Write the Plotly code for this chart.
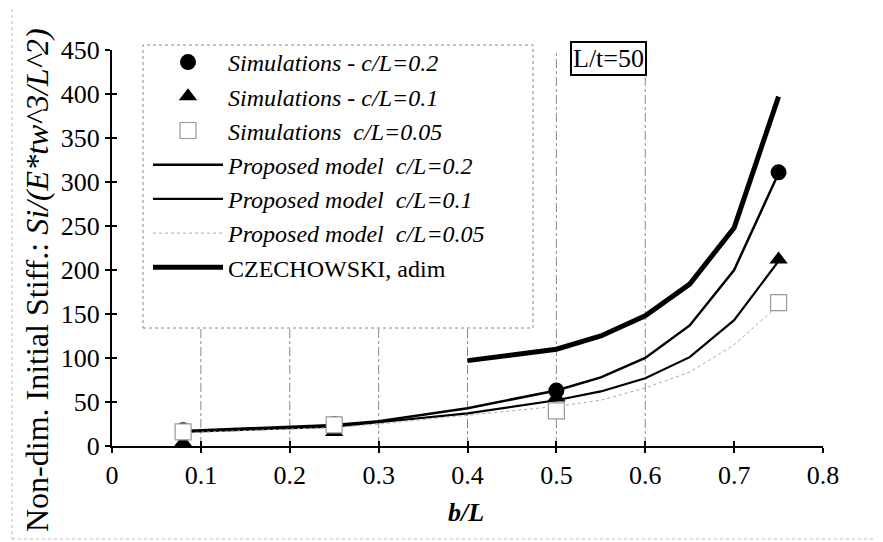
import plotly.graph_objects as go

# ---- data ----
sim_x = [0.08, 0.25, 0.5, 0.75]
sim_c02 = [18, 25, 63, 311]
sim_c01 = [4, 16, 55, 212]
sim_c005 = [16, 24, 40, 163]

model_x = [0.08, 0.25, 0.3, 0.4, 0.5, 0.55, 0.6, 0.65, 0.7, 0.75]
model_c02 = [17, 24, 28, 43, 63, 78, 100, 137, 200, 310]
model_c01 = [16, 22, 27, 37, 52, 62, 77, 101, 143, 210]
model_c005 = [15, 21, 25, 35, 45, 52, 66, 84, 115, 160]

czech_x = [0.4, 0.5, 0.55, 0.6, 0.65, 0.7, 0.75]
czech_y = [97, 110, 125, 148, 184, 248, 397]

x_ticks = [0, 0.1, 0.2, 0.3, 0.4, 0.5, 0.6, 0.7, 0.8]
x_ticklabels = ["0", "0.1", "0.2", "0.3", "0.4", "0.5", "0.6", "0.7", "0.8"]
y_ticks = [0, 50, 100, 150, 200, 250, 300, 350, 400, 450]
grid_x = [0.1, 0.2, 0.3, 0.4, 0.5, 0.6]

FONT = "Liberation Serif, Times New Roman, serif"

fig = go.Figure()

# lines first (drawn beneath markers)
fig.add_trace(go.Scatter(x=model_x, y=model_c02, mode="lines",
                         name="<i>Proposed model  c/L=0.2</i>", legendrank=4,
                         line=dict(color="black", width=2.5)))
fig.add_trace(go.Scatter(x=model_x, y=model_c01, mode="lines",
                         name="<i>Proposed model  c/L=0.1</i>", legendrank=5,
                         line=dict(color="black", width=2.2)))
fig.add_trace(go.Scatter(x=model_x, y=model_c005, mode="lines",
                         name="<i>Proposed model  c/L=0.05</i>", legendrank=6,
                         line=dict(color="#aaaaaa", width=1, dash="dot")))
fig.add_trace(go.Scatter(x=czech_x, y=czech_y, mode="lines",
                         name="CZECHOWSKI, adim", legendrank=7,
                         line=dict(color="black", width=5)))

# markers
fig.add_trace(go.Scatter(x=sim_x, y=sim_c01, mode="markers",
                         name="<i>Simulations - c/L=0.1</i>", legendrank=2,
                         marker=dict(symbol="triangle-up", size=16, color="black")))
fig.add_trace(go.Scatter(x=sim_x, y=sim_c02, mode="markers",
                         name="<i>Simulations - c/L=0.2</i>", legendrank=1,
                         marker=dict(symbol="circle", size=16, color="black")))
fig.add_trace(go.Scatter(x=sim_x, y=sim_c005, mode="markers",
                         name="<i>Simulations  c/L=0.05</i>", legendrank=3,
                         marker=dict(symbol="square", size=16, color="white",
                                     line=dict(color="#999999", width=1.2))))

# empty helper trace so the overlay axes (inward tick halves) get drawn
fig.add_trace(go.Scatter(x=[], y=[], xaxis="x2", yaxis="y2", mode="markers",
                         showlegend=False, hoverinfo="skip"))

# page body has an 8px margin -> compensate so the plot lands where the reference has it
OFF = 8
W, H = 883, 542
L = 112 - OFF
T = 50 - OFF
R = W - (823 - OFF)
B = H - (446 - OFF)
pw, ph = W - L - R, H - T - B


def px(xpix):
    return (xpix - OFF - L) / pw


def py(ypix):
    return (H - B - (ypix - OFF)) / ph


shapes = []
for gx in grid_x:
    shapes.append(dict(type="line", xref="x", yref="y domain", x0=gx, x1=gx,
                       y0=0, y1=1, line=dict(color="#888888", width=1, dash="dashdot"),
                       layer="below"))
shapes += [
    # legend box (dashed, white)
    dict(type="rect", xref="paper", yref="paper",
         x0=px(143), x1=px(533), y0=py(328), y1=py(45),
         line=dict(color="#888888", width=1, dash="dot"),
         fillcolor="white", layer="above"),
    # faint outer chart-area border
    dict(type="rect", xref="paper", yref="paper",
         x0=px(12), x1=px(880), y0=py(539), y1=py(5),
         line=dict(color="#bbbbbb", width=1, dash="dot"),
         fillcolor="rgba(0,0,0,0)", layer="below"),
]

annotations = [
    dict(text="L/t=50", xref="paper", yref="paper", x=px(608), y=py(58),
         xanchor="center", yanchor="middle", showarrow=False,
         font=dict(family=FONT, size=26, color="black"),
         bordercolor="black", borderwidth=2, borderpad=1, bgcolor="white"),
    dict(text="Non-dim. Initial Stiff.: <i>Si/(E*tw^3/L^2)</i>",
         xref="paper", yref="paper", x=px(37), y=py(280), textangle=-90,
         xanchor="center", yanchor="middle", showarrow=False,
         font=dict(family=FONT, size=32, color="black")),
    dict(text="<b><i>b/L</i></b>", xref="paper", yref="paper",
         x=px(466), y=py(512), xanchor="center", yanchor="middle",
         showarrow=False, font=dict(family=FONT, size=26, color="black")),
]

fig.update_layout(
    width=W, height=H,
    margin=dict(l=L, r=R, t=T, b=B, autoexpand=False),
    paper_bgcolor="white", plot_bgcolor="white",
    font=dict(family=FONT, size=22, color="black"),
    showlegend=True,
    legend=dict(x=px(148), y=py(40), xanchor="left", yanchor="top",
                bgcolor="rgba(0,0,0,0)", borderwidth=0,
                font=dict(family=FONT, size=24, color="black"),
                itemwidth=70, tracegroupgap=0),
    shapes=shapes,
    annotations=annotations,
    xaxis=dict(range=[0, 0.8], tickvals=x_ticks, ticktext=x_ticklabels,
               showline=True, linecolor="black", linewidth=2,
               ticks="outside", ticklen=5, tickwidth=2, tickcolor="black",
               showgrid=False, zeroline=False, ticklabelstandoff=0,
               tickfont=dict(family=FONT, size=26)),
    yaxis=dict(range=[0, 450], tickvals=y_ticks,
               showline=True, linecolor="black", linewidth=2,
               ticks="outside", ticklen=5, tickwidth=2, tickcolor="black",
               showgrid=False, zeroline=False,
               tickfont=dict(family=FONT, size=26)),
    # overlay axes only to draw the inward half of the crossing tick marks
    xaxis2=dict(overlaying="x", matches="x", anchor="y2", side="bottom",
                tickvals=x_ticks, ticks="inside", ticklen=5, tickwidth=2,
                tickcolor="black", showticklabels=False, showline=False,
                showgrid=False, zeroline=False),
    yaxis2=dict(overlaying="y", matches="y", anchor="x2", side="left",
                tickvals=y_ticks, ticks="inside", ticklen=5, tickwidth=2,
                tickcolor="black", showticklabels=False, showline=False,
                showgrid=False, zeroline=False),
)

fig.write_html("out.html")
